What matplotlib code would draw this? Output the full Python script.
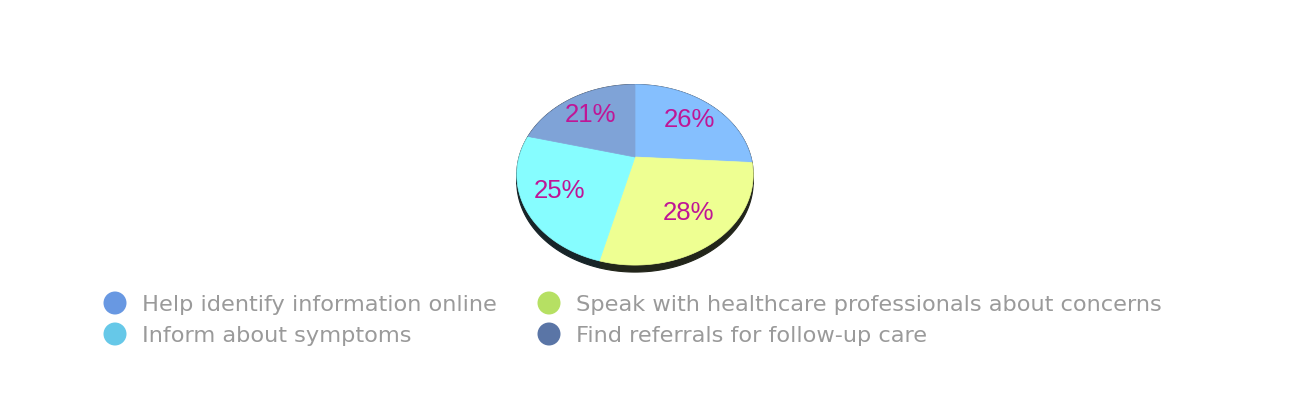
import numpy as np
import matplotlib
matplotlib.use("Agg")
import matplotlib.pyplot as plt
from matplotlib.patches import Polygon, Circle

# Data
categories = [
    "Help identify information online",
    "Speak with healthcare professionals about concerns",
    "Inform about symptoms",
    "Find referrals for follow-up care",
]
values = [26, 28, 25, 21]
# order of the slices around the pie (clockwise from 12 o'clock)
slice_order = [0, 1, 2, 3]
slice_colors = ["#85BFFE", "#EEFF92", "#86FDFF", "#7FA3D7"]
side_colors = ["#1B2330", "#22251A", "#172428", "#1A2028"]
legend_colors = ["#6898E2", "#B6E063", "#66C8E8", "#5A75A6"]
label_color = "#BF1696"
text_grey = "#9A9A9A"

W, H = 1298, 406
fig = plt.figure(figsize=(W / 100, H / 100), dpi=100)
ax = fig.add_axes([0, 0, 1, 1])
ax.set_xlim(0, W)
ax.set_ylim(H, 0)
ax.axis("off")

# Tilted disc with perspective
cx, cy = 635.0, 158.0
tilt = np.deg2rad(47.8)
dist = 3.40
fx, fy = 394.0, 398.0
depth = 7.0


def project(u, v):
    z = dist + v * np.cos(tilt)
    return cx + fx * u / z, cy - fy * v * np.sin(tilt) / z


total = float(sum(values))
angles = [90.0]
for i in slice_order:
    angles.append(angles[-1] - 360.0 * values[i] / total)

# Side wall of the disc
for k, i in enumerate(slice_order):
    t = np.deg2rad(np.linspace(angles[k], angles[k + 1], 200))
    x, y = project(np.cos(t), np.sin(t))
    pts = np.column_stack([np.r_[x, x[::-1]], np.r_[y, y[::-1] + depth]])
    ax.add_patch(Polygon(pts, closed=True, facecolor=side_colors[i],
                         edgecolor=side_colors[i], lw=0.8, zorder=1))

# Top faces
for k, i in enumerate(slice_order):
    t = np.deg2rad(np.linspace(angles[k], angles[k + 1], 200))
    x, y = project(np.cos(t), np.sin(t))
    pts = np.column_stack([np.r_[cx, x], np.r_[cy, y]])
    ax.add_patch(Polygon(pts, closed=True, facecolor=slice_colors[i],
                         edgecolor=slice_colors[i], lw=0.5, zorder=2))
    mid = np.deg2rad((angles[k] + angles[k + 1]) / 2)
    r = 0.7
    lx, ly = project(r * np.cos(mid), r * np.sin(mid))
    ax.text(lx, ly, f"{values[i]}%", color=label_color, fontsize=18.5,
            family="Liberation Sans", ha="center", va="center", zorder=3)

# Legend
legend_pos = [(115, 304), (549, 304), (115, 335), (549, 335)]
for (mx, my), name, col in zip(legend_pos, categories, legend_colors):
    ax.add_patch(Circle((mx, my), 11.5, facecolor=col, edgecolor="none", zorder=3))
    ax.text(mx + 27, my + 1, name, color=text_grey, fontsize=16.2,
            family="DejaVu Sans", ha="left", va="center", zorder=3)

fig.savefig("out.png", dpi=100)
